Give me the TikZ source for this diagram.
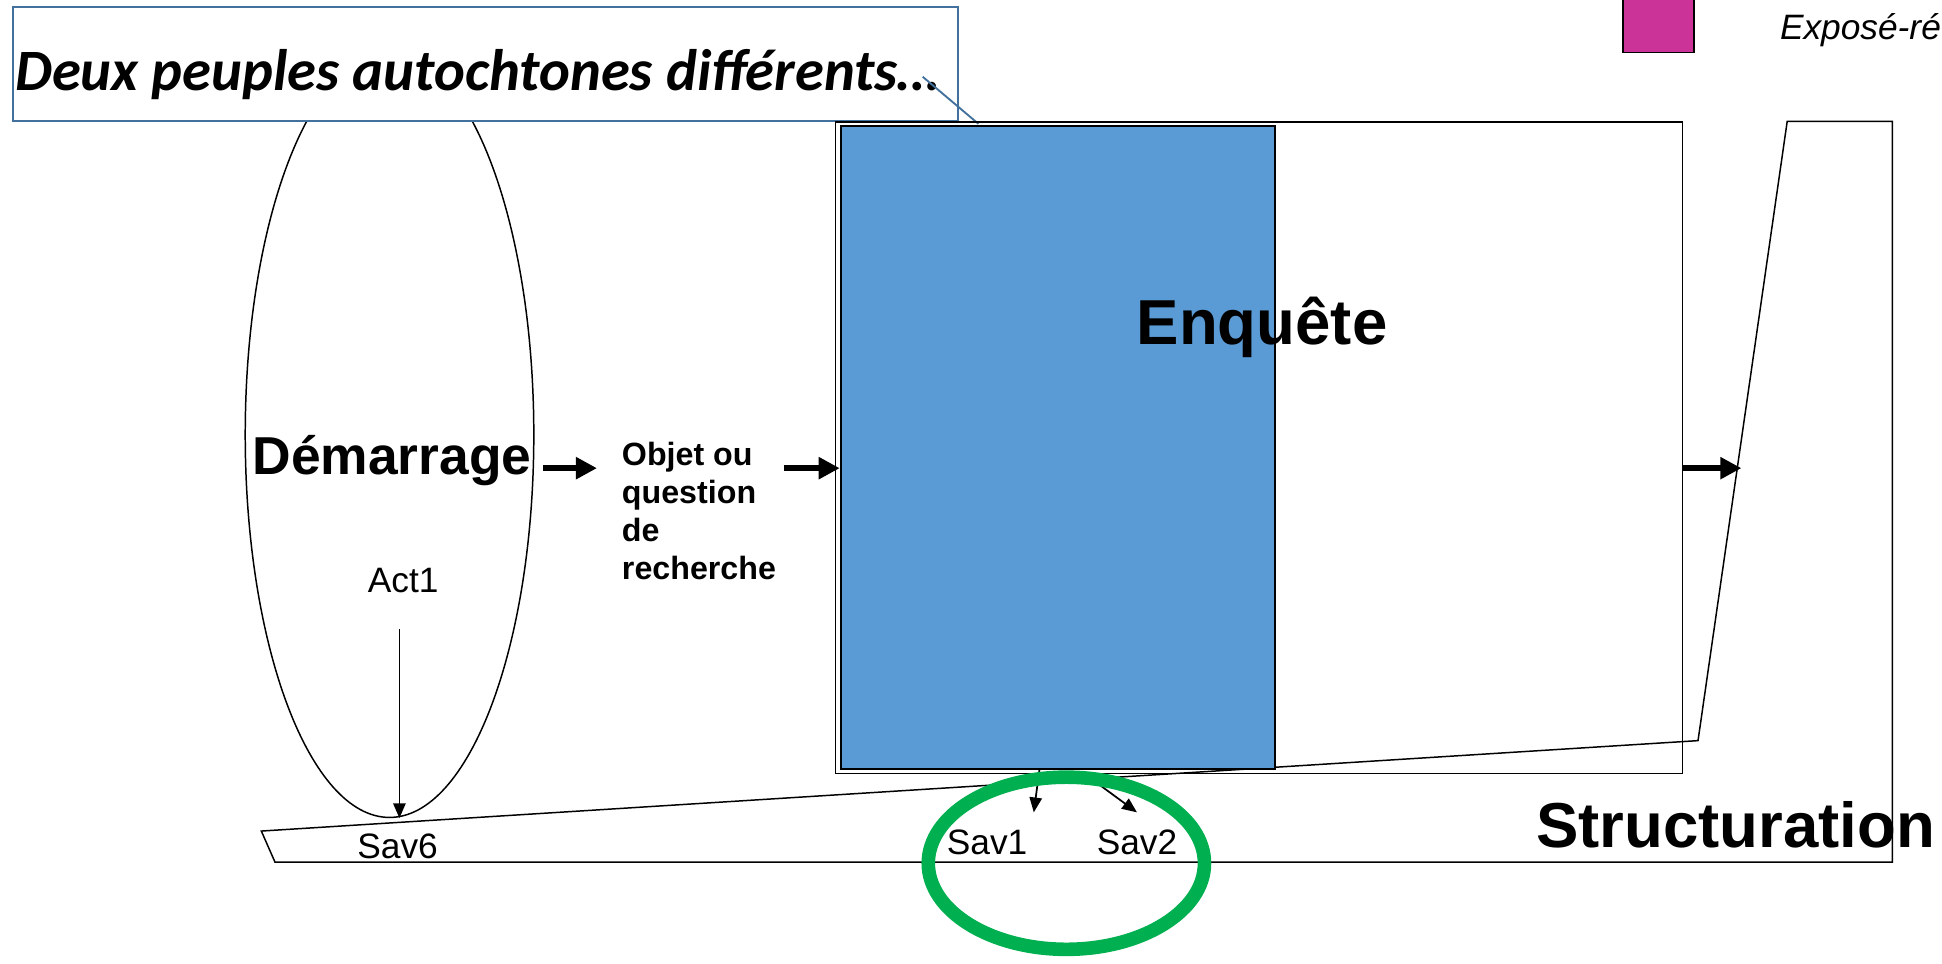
\documentclass[tikz,border=0pt]{standalone}
\usepackage{fontspec}
\setmainfont{Liberation Sans}
\newfontfamily\calibri{Carlito}
\usetikzlibrary{arrows.meta, shapes.geometric}

\definecolor{bleuenq}{RGB}{91,155,213}
\definecolor{vertsav}{RGB}{0,176,80}
\definecolor{bordbulle}{RGB}{65,113,156}
\definecolor{roselegende}{RGB}{204,51,153}

\tikzset{
    trait/.style={line width=1.2pt},
    grossefleche/.style={line width=5pt, -{Triangle[length=17pt, width=17pt]}},
    finefleche/.style={line width=1.4pt, -{Triangle[length=12pt, width=10pt]}},
    grandtitre/.style={font=\bfseries\fontsize{51.3}{60}\selectfont, inner sep=0pt},
    savoir/.style={font=\fontsize{28.5}{34}\selectfont, inner sep=0pt, anchor=base},
}

\begin{document}
\begin{tikzpicture}[x=1pt, y=-1pt]
    \useasboundingbox (0,0) rectangle (1568,778);

    % demarrage
    \node[ellipse, draw, trait, minimum width=233pt, minimum height=618pt, inner sep=0pt] (ovale) at (314.5,351) {};
    \node[font=\bfseries\fontsize{43.1}{50}\selectfont, inner sep=0pt, anchor=base] (demarrage) at (316.5,383) {Démarrage};
    \node[savoir] (act1) at (325.5,478) {Act1};

    % bande de structuration
    \draw[trait] (211,671) -- (1371,598) -- (1443,98) -- (1528,98) -- (1528,696) -- (222,696) -- cycle;
    \node[grandtitre, anchor=base west] (structuration) at (1240,684) {Structuration};

    % bulle du titre
    \node[draw=bordbulle, line width=1.5pt, fill=white, anchor=north west, inner sep=0pt,
          minimum width=763pt, minimum height=92pt] (bulle) at (10,5) {};
    \node[font=\calibri\bfseries\itshape\fontsize{47.3}{56}\selectfont, inner sep=0pt, anchor=base west] (titre) at (12,73) {Deux peuples autochtones différents…};
    \coordinate (queue) at (745,62);
    \coordinate (pointe) at (790,100);
    \draw[bordbulle, line width=1.5pt] (queue) -- (pointe);

    % legende
    \node[draw, trait, fill=roselegende, anchor=south west, inner sep=0pt, minimum width=57pt, minimum height=50pt] (rose) at (1310,43) {};
    \node[font=\itshape\fontsize{28.5}{34}\selectfont, inner sep=0pt, anchor=base west] (expose) at (1437,32) {Exposé-ré};

    % enquete
    \node[draw, trait, anchor=north west, inner sep=0pt, minimum width=684pt, minimum height=526pt] (cadre) at (674,98) {};
    \node[draw, line width=1.5pt, fill=bleuenq, anchor=north west, inner sep=0pt, minimum width=351pt, minimum height=519pt] (bleu) at (678,101) {};
    \node[grandtitre, anchor=base] (enquete) at (1019,278) {Enquête};

    % objet de recherche
    \node[font=\bfseries\fontsize{26}{30.7}\selectfont, align=left, inner sep=0pt, anchor=north west] (objet) at (502,357) {Objet ou\\question\\de\\recherche};

    \coordinate (depart1) at ([xshift=9pt, yshift=5pt]demarrage.base east);
    \coordinate (arrivee1) at (depart1 -| objet.west);
    \coordinate (depart2) at ([xshift=6pt]objet.north east |- depart1);
    \coordinate (sortie) at (1406,378);
    \draw[grossefleche] (depart1) -- ([xshift=-20pt]arrivee1);
    \draw[grossefleche] (depart2) -- (depart2 -| bleu.west);
    \draw[grossefleche] (sortie -| cadre.east) -- (sortie);

    % savoirs
    \node[savoir] (sav6) at (321,693) {Sav6};
    \node[savoir] (sav1) at (797,690) {Sav1};
    \node[savoir] (sav2) at (918,690) {Sav2};

    \draw[finefleche] ([xshift=-3pt, yshift=-30pt]act1.base) -- ([xshift=-3pt]act1.base |- ovale.south);
    \draw[finefleche] ([xshift=-15pt]bleu.south) -- ([xshift=5pt, yshift=14pt]sav1.north east);
    \draw[finefleche] ([xshift=21pt, yshift=-3pt]bleu.south) -- ([yshift=14pt]sav2.north);

    \draw[vertsav, line width=11pt] (861,697) ellipse [x radius=111.5, y radius=69.5];
\end{tikzpicture}
\end{document}
